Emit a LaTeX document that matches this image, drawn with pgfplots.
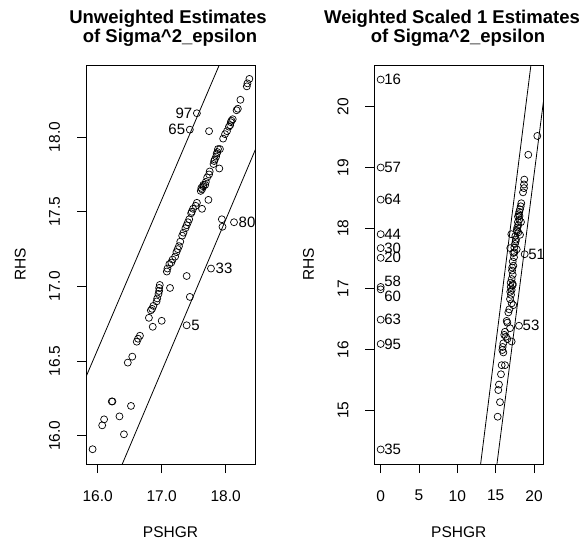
\documentclass[border=0pt]{standalone}
\usepackage{pgfplots}
\pgfplotsset{compat=1.18}
\usepackage{fontspec}
\setmainfont{Liberation Sans}
\pgfplotstableread{
x y
15.92 15.91
16.07 16.07
16.10 16.11
16.22 16.23
16.23 16.23
16.34 16.13
16.41 16.01
16.52 16.20
16.47 16.49
16.54 16.53
16.61 16.63
16.63 16.65
16.66 16.67
16.80 16.79
16.86 16.73
17.00 16.77
16.83 16.84
16.85 16.85
16.87 16.87
16.92 16.90
16.93 16.92
16.95 16.95
16.96 16.97
16.96 16.99
16.97 17.01
17.13 16.99
17.44 16.93
17.39 16.74
17.39 17.07
17.77 17.12
17.94 17.45
17.95 17.40
18.13 17.43
17.55 18.16
17.44 18.05
17.74 18.04
17.90 17.79
17.73 17.58
17.63 17.52
17.08 17.10
17.09 17.12
17.12 17.15
17.15 17.16
17.17 17.18
17.21 17.20
17.23 17.23
17.25 17.25
17.27 17.27
17.29 17.30
17.32 17.34
17.34 17.36
17.37 17.39
17.39 17.41
17.41 17.43
17.43 17.45
17.46 17.49
17.47 17.50
17.49 17.52
17.53 17.54
17.55 17.56
17.61 17.64
17.62 17.66
17.63 17.65
17.65 17.67
17.65 17.68
17.68 17.68
17.69 17.70
17.71 17.73
17.74 17.75
17.75 17.77
17.81 17.82
17.82 17.84
17.83 17.85
17.85 17.87
17.86 17.89
17.87 17.90
17.88 17.92
17.91 17.92
17.96 17.99
17.99 18.02
18.02 18.04
18.05 18.07
18.07 18.08
18.08 18.10
18.09 18.11
18.11 18.12
18.17 18.18
18.19 18.19
18.23 18.25
18.33 18.34
18.34 18.36
18.37 18.39
}\leftdata
\pgfplotstableread{
x y
0 20.45
0 19.00
0 18.47
0 17.90
0 17.67
0 17.51
0 17.03
0 16.99
0 16.49
0 16.09
0 14.35
20.43 19.52
19.25 19.21
18.73 18.80
18.69 18.72
18.69 18.66
18.56 18.59
18.34 18.41
18.26 18.36
18.17 18.31
18.08 18.27
18.00 18.23
17.91 18.19
18.30 18.10
18.08 18.14
17.95 18.05
17.82 18.01
17.74 17.97
17.04 17.90
16.90 17.67
17.95 17.93
18.17 17.89
17.56 17.87
17.65 17.81
17.52 17.74
17.43 17.68
17.74 17.65
17.30 17.59
17.39 17.52
17.22 17.45
17.30 17.38
17.13 17.30
17.22 17.23
17.08 17.16
17.22 17.08
16.96 17.03
17.22 17.06
17.08 16.98
17.00 16.90
16.87 16.83
17.08 16.76
17.30 16.73
16.78 16.66
16.65 16.61
16.43 16.47
16.52 16.44
16.87 16.35
16.21 16.29
16.12 16.24
16.34 16.21
16.52 16.17
17.08 16.13
16.00 16.10
15.91 16.04
15.87 15.99
16.00 15.95
15.78 15.74
16.21 15.74
15.69 15.59
15.43 15.42
15.34 15.33
15.56 15.13
15.26 14.89
18.78 17.57
18.04 16.39
17.60 17.78
17.80 17.95
17.45 17.60
17.15 17.35
17.90 18.10
18.10 18.20
16.90 16.95
16.95 17.10
}\rightdata
\tikzset{lbl/.style={font=\fontsize{15}{15}\selectfont, inner sep=0pt}}
\pgfplotsset{
  rstyle/.style={
    scale only axis, width=169pt, height=399pt, anchor=north west,
    axis line style={line width=0.8pt},
    tick align=outside, major tick length=9pt,
    xtick pos=bottom, ytick pos=left,
    tick style={black, line width=0.8pt},
    every tick label/.append style={font=\fontsize{15.5}{15.5}\selectfont, inner sep=0pt},
    xticklabel style={yshift=-17pt, anchor=north},
    yticklabel style={xshift=-16.7pt, rotate=90, anchor=south},
    every axis x label/.style={at={(rel axis cs:0.5,0)}, yshift=-62pt, anchor=north, inner sep=0pt, font=\fontsize{15.5}{15.5}\selectfont},
    every axis y label/.style={at={(rel axis cs:0,0.5)}, xshift=-60pt, rotate=90, anchor=south, inner sep=0pt, font=\fontsize{15.5}{15.5}\selectfont},
    xlabel={PSHGR}, ylabel={RHS},
    clip=true,
  },
  pts/.style={only marks, mark=o, mark size=3.5pt, mark options={line width=0.7pt, black}},
}
\begin{document}
\begin{tikzpicture}
\path (0pt,0pt) rectangle (586pt,-544pt);
\node[anchor=base, font=\bfseries\fontsize{18.5}{18.5}\selectfont] at (168pt,-23.5pt) {Unweighted Estimates};
\node[anchor=base, font=\bfseries\fontsize{18.5}{18.5}\selectfont] at (170pt,-42.5pt) {of Sigma\^{}2\_epsilon};
\node[anchor=base, font=\bfseries\fontsize{18.5}{18.5}\selectfont] at (452pt,-23.5pt) {Weighted Scaled 1 Estimates};
\node[anchor=base, font=\bfseries\fontsize{18.5}{18.5}\selectfont] at (458pt,-42.5pt) {of Sigma\^{}2\_epsilon};
\begin{axis}[rstyle, at={(86pt,-65pt)},
  xmin=15.817, xmax=18.458, ymin=15.811, ymax=18.483,
  xtick={16,17,18}, xticklabels={16.0,17.0,18.0},
  ytick={16,16.5,17,17.5,18}, yticklabels={16.0,16.5,17.0,17.5,18.0}]
\addplot[pts] table[x=x,y=y] {\leftdata};
\addplot[no marks, black, line width=0.8pt] coordinates {(15.5,16.077) (19,19.586)};
\addplot[no marks, black, line width=0.8pt] coordinates {(15.5,14.916) (19,18.459)};
\node[lbl, anchor=east] at (axis cs:17.55,18.16) [xshift=-4.5pt] {97};
\node[lbl, anchor=east] at (axis cs:17.44,18.05) [xshift=-4.5pt] {65};
\node[lbl, anchor=west] at (axis cs:18.13,17.43) [xshift=4.5pt] {80};
\node[lbl, anchor=west] at (axis cs:17.77,17.12) [xshift=4.5pt] {33};
\node[lbl, anchor=west] at (axis cs:17.39,16.74) [xshift=4.5pt] {5};
\end{axis}
\begin{axis}[rstyle, at={(374.3pt,-65pt)},
  xmin=-0.83, xmax=21.21, ymin=14.11, ymax=20.69,
  xtick={0,5,10,15,20}, xticklabels={0,5,10,15,20},
  ytick={15,16,17,18,19,20}, yticklabels={15,16,17,18,19,20}]
\addplot[pts] table[x=x,y=y] {\rightdata};
\addplot[no marks, black, line width=0.8pt] coordinates {(12,13.07) (22,23.1)};
\addplot[no marks, black, line width=0.8pt] coordinates {(14,12.96) (22,20.85)};
\node[lbl, anchor=west] at (axis cs:0,20.45) [xshift=3.5pt] {16};
\node[lbl, anchor=west] at (axis cs:0,19.00) [xshift=3.5pt] {57};
\node[lbl, anchor=west] at (axis cs:0,18.47) [xshift=3.5pt] {64};
\node[lbl, anchor=west] at (axis cs:0,17.90) [xshift=3.5pt] {44};
\node[lbl, anchor=west] at (axis cs:0,17.67) [xshift=3.5pt] {30};
\node[lbl, anchor=west] at (axis cs:0,17.51) [xshift=3.5pt] {20};
\node[lbl, anchor=west] at (axis cs:0,17.13) [xshift=3.5pt] {58};
\node[lbl, anchor=west] at (axis cs:0,16.88) [xshift=3.5pt] {60};
\node[lbl, anchor=west] at (axis cs:0,16.49) [xshift=3.5pt] {63};
\node[lbl, anchor=west] at (axis cs:0,16.09) [xshift=3.5pt] {95};
\node[lbl, anchor=west] at (axis cs:0,14.35) [xshift=3.5pt] {35};
\node[lbl, anchor=west] at (axis cs:18.78,17.57) [xshift=3.5pt] {51};
\node[lbl, anchor=west] at (axis cs:18.04,16.39) [xshift=3.5pt] {53};
\end{axis}
\end{tikzpicture}
\end{document}
